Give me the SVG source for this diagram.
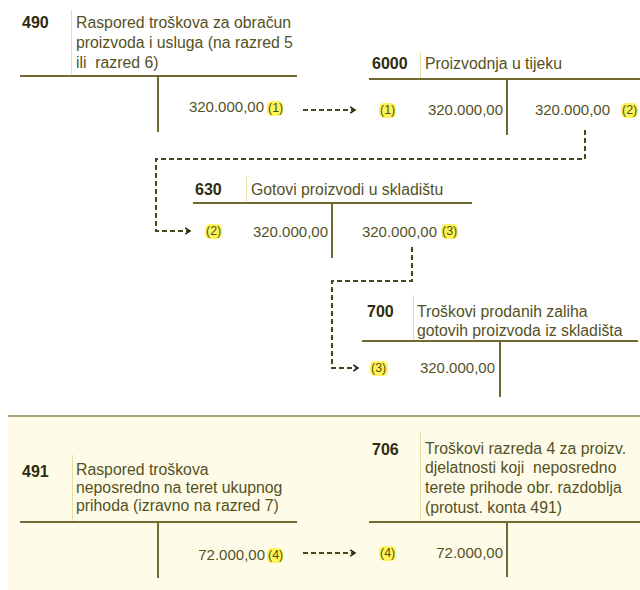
<svg xmlns="http://www.w3.org/2000/svg" width="640" height="590" viewBox="0 0 640 590">
<defs>
<style>
text{font-family:"Liberation Sans",Arial,sans-serif;fill:#55511f;font-size:15px}
.num{font-weight:bold;fill:#2e2c10;font-size:16px}
.ttl{font-size:15.8px}
.amt{text-anchor:end}
.ref{font-size:12.5px;fill:#55520f}
.hl{fill:#fff35a}
.t{stroke:#716b33;stroke-width:2;fill:none}
.sep{stroke:#e6dfa8;stroke-width:1;fill:none}
.dash{stroke:#4a4720;stroke-width:2;stroke-dasharray:5,3;fill:none}
</style>
<marker id="ah" viewBox="0 0 10 10" refX="8" refY="5" markerWidth="8" markerHeight="8" markerUnits="userSpaceOnUse" orient="auto">
<polyline points="2,1 8,5 2,9" fill="none" stroke="#2e2c10" stroke-width="2"/>
</marker>
</defs>
<rect width="640" height="590" fill="#ffffff"/>
<rect x="8" y="416" width="632" height="174" fill="#fefce9"/>
<line x1="8" y1="416" x2="640" y2="416" stroke="#8a8452" stroke-width="1.5"/>

<g id="acc490">
<line class="sep" x1="71.5" y1="10" x2="71.5" y2="76"/>
<text class="num" x="22" y="28">490</text>
<text class="ttl" x="76" y="28">Raspored troškova za obračun</text>
<text class="ttl" x="76" y="48">proizvoda i usluga (na razred 5</text>
<text class="ttl" x="76" y="68" style="white-space:pre">ili  razred 6)</text>
<line class="t" x1="20" y1="76" x2="297" y2="76"/>
<line class="t" x1="158" y1="76" x2="158" y2="132"/>
<text class="amt" x="264" y="112">320.000,00</text>
<rect class="hl" x="267" y="101" width="16" height="15" rx="5"/>
<text class="ref" x="268" y="112">(1)</text>
</g>

<g id="acc6000">
<line class="sep" x1="420.5" y1="52" x2="420.5" y2="79"/>
<text class="num" x="372" y="69">6000</text>
<text class="ttl" x="425" y="69">Proizvodnja u tijeku</text>
<line class="t" x1="369" y1="79" x2="640" y2="79"/>
<line class="t" x1="507" y1="79" x2="507" y2="135"/>
<rect class="hl" x="379" y="103" width="17" height="15" rx="5"/>
<text class="ref" x="380" y="114">(1)</text>
<text class="amt" x="503" y="115">320.000,00</text>
<text class="amt" x="610" y="115">320.000,00</text>
<rect class="hl" x="621" y="103" width="17" height="15" rx="5"/>
<text class="ref" x="622" y="114">(2)</text>
</g>

<g id="acc630">
<line class="sep" x1="246.5" y1="176" x2="246.5" y2="203"/>
<text class="num" x="195" y="195">630</text>
<text class="ttl" x="251" y="195">Gotovi proizvodi u skladištu</text>
<line class="t" x1="193" y1="203" x2="472" y2="203"/>
<line class="t" x1="332" y1="203" x2="332" y2="258"/>
<rect class="hl" x="205" y="224" width="17" height="15" rx="5"/>
<text class="ref" x="206" y="235">(2)</text>
<text class="amt" x="328" y="237">320.000,00</text>
<text class="amt" x="437" y="237">320.000,00</text>
<rect class="hl" x="441" y="224" width="17" height="15" rx="5"/>
<text class="ref" x="442" y="235">(3)</text>
</g>

<g id="acc700">
<line class="sep" x1="413.5" y1="295" x2="413.5" y2="341"/>
<text class="num" x="367" y="317">700</text>
<text class="ttl" x="417" y="317">Troškovi prodanih zaliha</text>
<text class="ttl" x="417" y="336">gotovih proizvoda iz skladišta</text>
<line class="t" x1="362" y1="341" x2="638" y2="341"/>
<line class="t" x1="500" y1="341" x2="500" y2="397"/>
<rect class="hl" x="370" y="361" width="18" height="15" rx="5"/>
<text class="ref" x="371" y="372">(3)</text>
<text class="amt" x="495" y="373">320.000,00</text>
</g>

<g id="acc491">
<line class="sep" x1="72.5" y1="455" x2="72.5" y2="522"/>
<text class="num" x="22" y="477">491</text>
<text class="ttl" x="76" y="475">Raspored troškova</text>
<text class="ttl" x="76" y="493">neposredno na teret ukupnog</text>
<text class="ttl" x="76" y="511">prihoda (izravno na razred 7)</text>
<line class="t" x1="20" y1="522" x2="297" y2="522"/>
<line class="t" x1="158" y1="522" x2="158" y2="578"/>
<text class="amt" x="265" y="560">72.000,00</text>
<rect class="hl" x="267" y="548" width="16" height="15" rx="5"/>
<text class="ref" x="268" y="559">(4)</text>
</g>

<g id="acc706">
<line class="sep" x1="420.5" y1="433" x2="420.5" y2="522"/>
<text class="num" x="372" y="455">706</text>
<text class="ttl" x="425" y="454">Troškovi razreda 4 za proizv.</text>
<text class="ttl" x="425" y="473" style="white-space:pre">djelatnosti koji  neposredno</text>
<text class="ttl" x="425" y="493">terete prihode obr. razdoblja</text>
<text class="ttl" x="425" y="513">(protust. konta 491)</text>
<line class="t" x1="369" y1="522" x2="640" y2="522"/>
<line class="t" x1="507" y1="522" x2="507" y2="577"/>
<rect class="hl" x="379" y="546" width="17" height="15" rx="5"/>
<text class="ref" x="380" y="557">(4)</text>
<text class="amt" x="503" y="558">72.000,00</text>
</g>

<g id="connectors">
<path class="dash" d="M303,110 H355" marker-end="url(#ah)"/>
<path class="dash" d="M585,130 V159 H156 V231 H190" marker-end="url(#ah)"/>
<path class="dash" d="M412,247 V281 H332 V368 H358" marker-end="url(#ah)"/>
<path class="dash" d="M303,553 H355" marker-end="url(#ah)"/>
</g>
</svg>
